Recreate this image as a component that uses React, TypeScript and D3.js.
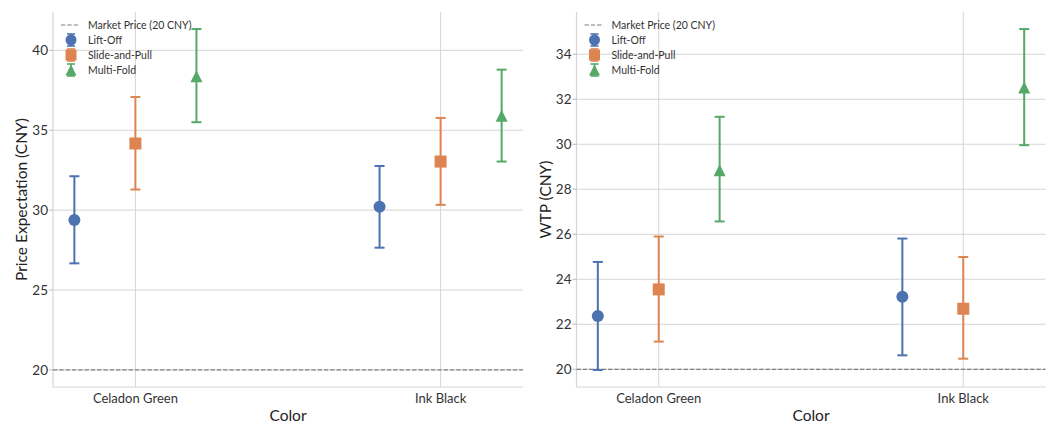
import React from "react";
import * as d3 from "d3";

// Categories on the x axis and the three product series
const categories = ["Celadon Green", "Ink Black"];
const seriesNames = ["Lift-Off", "Slide-and-Pull", "Multi-Fold"];
const seriesColors = ["#4C72B0", "#DD8452", "#55A868"];
const seriesShapes = ["circle", "square", "triangle"];

// Price expectation (CNY): mean and 95% CI per series, per category
const priceMean = [
  [29.38, 30.21],
  [34.17, 33.04],
  [38.38, 35.9],
];
const priceLow = [
  [26.67, 27.65],
  [31.29, 30.33],
  [35.5, 33.04],
];
const priceHigh = [
  [32.12, 32.76],
  [37.08, 35.77],
  [41.33, 38.79],
];

// Willingness to pay (CNY)
const wtpMean = [
  [22.37, 23.22],
  [23.55, 22.69],
  [28.85, 32.52],
];
const wtpLow = [
  [19.97, 20.62],
  [21.23, 20.47],
  [26.57, 29.96],
];
const wtpHigh = [
  [24.77, 25.81],
  [25.9, 24.99],
  [31.22, 35.12],
];

const marketPrice = 20;
const marketLabel = "Market Price (20 CNY)";
const priceTicks = [20, 25, 30, 35, 40];
const wtpTicks = [20, 22, 24, 26, 28, 30, 32, 34];

const dodge = [-0.2, 0, 0.2];
const FONT = "Lato, 'Noto Sans', sans-serif";
const GRID = "#d5d5d5";

function Marker({ shape, x, y, color, size }: any) {
  const h = size / 2;
  if (shape === "circle") return <circle cx={x} cy={y} r={h} fill={color} />;
  if (shape === "square")
    return <rect x={x - h} y={y - h} width={size} height={size} fill={color} />;
  return (
    <path
      d={`M${x},${y - h}L${x + h},${y + h}L${x - h},${y + h}Z`}
      fill={color}
    />
  );
}

function Panel({ left, width, top, height, means, lows, highs, ticks, yLabel }: any) {
  const positions: number[] = [];
  categories.forEach((_, ci) => dodge.forEach((d) => positions.push(ci + d)));
  const [xMin, xMax] = d3.extent(positions) as [number, number];
  const xPad = (xMax - xMin) * 0.05;
  const x = d3.scaleLinear().domain([xMin - xPad, xMax + xPad]).range([left, left + width]);

  const allVals = [marketPrice, ...lows.flat(), ...highs.flat()];
  const [yMin, yMax] = d3.extent(allVals) as [number, number];
  const yPad = (yMax - yMin) * 0.05;
  const y = d3.scaleLinear().domain([yMin - yPad, yMax + yPad]).range([top + height, top]);

  const capHalf = 5;
  const midX = left + width / 2;

  return (
    <g fontFamily={FONT}>
      {/* grid */}
      {ticks.map((t: number) => (
        <line key={"gy" + t} x1={left} x2={left + width} y1={y(t)} y2={y(t)} stroke={GRID} strokeWidth={1} />
      ))}
      {categories.map((c, i) => (
        <line key={"gx" + c} x1={x(i)} x2={x(i)} y1={top} y2={top + height} stroke={GRID} strokeWidth={1} />
      ))}
      {/* spines */}
      <line x1={left} x2={left} y1={top} y2={top + height} stroke={GRID} strokeWidth={1.2} />
      <line x1={left} x2={left + width} y1={top + height} y2={top + height} stroke={GRID} strokeWidth={1.2} />
      {/* y ticks */}
      {ticks.map((t: number) => (
        <g key={"ty" + t}>
          <line x1={left - 4} x2={left} y1={y(t)} y2={y(t)} stroke="#bbbbbb" strokeWidth={1} />
          <text x={left - 5} y={y(t)} dy="0.35em" textAnchor="end" fontSize={13.5} fill="#333">
            {t}
          </text>
        </g>
      ))}
      {categories.map((c, i) => (
        <text key={"tx" + c} x={x(i)} y={top + height + 15.5} textAnchor="middle" fontSize={13} fill="#333">
          {c}
        </text>
      ))}
      {/* axis labels */}
      <text x={midX} y={top + height + 34} textAnchor="middle" fontSize={15.5} fill="#222">
        Color
      </text>
      <text
        transform={`translate(${left - 26},${top + height / 2}) rotate(-90)`}
        textAnchor="middle"
        fontSize={15.5}
        fill="#222"
      >
        {yLabel}
      </text>
      {/* market price reference */}
      <line
        x1={left}
        x2={left + width}
        y1={y(marketPrice)}
        y2={y(marketPrice)}
        stroke="#808080"
        strokeWidth={1.2}
        strokeDasharray="4.4,1.9"
      />
      {/* error bars and points */}
      {seriesNames.map((s, si) => (
        <g key={s}>
          {categories.map((c, ci) => {
            const px = x(ci + dodge[si]);
            const yl = y(lows[si][ci]);
            const yh = y(highs[si][ci]);
            return (
              <g key={c}>
                <line x1={px} x2={px} y1={yl} y2={yh} stroke={seriesColors[si]} strokeWidth={2} />
                <line x1={px - capHalf} x2={px + capHalf} y1={yl} y2={yl} stroke={seriesColors[si]} strokeWidth={2} />
                <line x1={px - capHalf} x2={px + capHalf} y1={yh} y2={yh} stroke={seriesColors[si]} strokeWidth={2} />
                <Marker shape={seriesShapes[si]} x={px} y={y(means[si][ci])} color={seriesColors[si]} size={12} />
              </g>
            );
          })}
        </g>
      ))}
      {/* legend */}
      <g>
        <line x1={left + 8} x2={left + 27} y1={top + 13} y2={top + 13} stroke="#808080" strokeWidth={1.2} strokeDasharray="4.4,1.9" />
        <text x={left + 35} y={top + 13} dy="0.35em" fontSize={10.5} fill="#333">
          {marketLabel}
        </text>
        {seriesNames.map((s, si) => {
          const ly = top + 28 + si * 15;
          const mx = left + 18;
          return (
            <g key={"lg" + s}>
              <line x1={mx} x2={mx} y1={ly - 6} y2={ly + 6} stroke={seriesColors[si]} strokeWidth={1.6} />
              <line x1={mx - 4} x2={mx + 4} y1={ly - 6} y2={ly - 6} stroke={seriesColors[si]} strokeWidth={1.6} />
              <line x1={mx - 4} x2={mx + 4} y1={ly + 6} y2={ly + 6} stroke={seriesColors[si]} strokeWidth={1.6} />
              <Marker shape={seriesShapes[si]} x={mx} y={ly} color={seriesColors[si]} size={11} />
              <text x={left + 35} y={ly} dy="0.35em" fontSize={10.5} fill="#333">
                {s}
              </text>
            </g>
          );
        })}
      </g>
    </g>
  );
}

export default function App() {
  return (
    <svg
      width={1051}
      height={426}
      style={{ position: "absolute", left: 0, top: 0, background: "#fff" }}
    >
      <rect width={1051} height={426} fill="#fff" />
      <Panel
        left={53}
        width={470}
        top={12}
        height={375}
        means={priceMean}
        lows={priceLow}
        highs={priceHigh}
        ticks={priceTicks}
        yLabel="Price Expectation (CNY)"
      />
      <Panel
        left={576.5}
        width={469}
        top={12}
        height={375}
        means={wtpMean}
        lows={wtpLow}
        highs={wtpHigh}
        ticks={wtpTicks}
        yLabel="WTP (CNY)"
      />
    </svg>
  );
}
